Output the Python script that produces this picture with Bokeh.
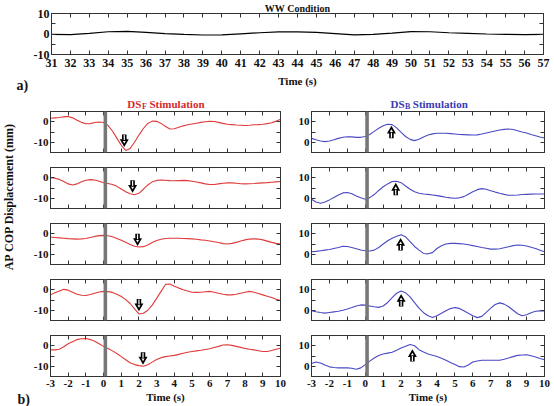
import numpy as np
from bokeh.plotting import figure
from bokeh.layouts import column, row
from bokeh.models import Range1d, FixedTicker, LinearAxis, Label, BoxAnnotation, ColumnDataSource, Title
from bokeh.embed import file_html
from bokeh.resources import INLINE

FONT = "Liberation Serif"
AXC = "#333333"
TXT = "#111111"
RED = "#e03a3a"
BLUE = "#4a4ac4"
RED_T = "#d42a2a"
BLUE_T = "#3b3bb0"

# ---------------- data ----------------
ww_time = list(range(31, 58))
ww_cop = [-0.2, -0.3, 0.3, 1.1, 1.3, 0.8, 0.2, -0.2, -0.5, -0.4, 0.1, 0.6, 1.0, 1.0,
          0.8, 0.2, -0.4, -0.2, 0.4, 1.2, 1.1, 0.6, 0.3, 0.0, -0.15, -0.3, -0.2]

t = np.arange(-3, 10.001, 0.25)

dsf_1 = [1.7, 1.9, 2.1, 2.4, 2.6, 1.9, 0.7, -0.3, -1.0, -0.9, -0.4, -0.1,
         -0.4, -1.8, -4.5, -8.0, -11.5, -14.0, -13.0, -10.0, -6.5, -3.3, -0.8, 0.3,
         0.2, -0.8, -2.3, -3.5, -3.4, -2.7, -2.0, -1.5, -1.1, -0.7, -0.3, 0.0,
         0.2, 0.1, -0.3, -0.8, -1.2, -1.4, -1.6, -1.7, -1.8, -1.7, -1.5, -1.4,
         -1.2, -0.9, -0.5, 0.3, 1.2]
dsf_2 = [0.0, -0.2, -0.8, -1.8, -3.0, -3.5, -3.0, -2.0, -1.2, -0.9, -1.1, -1.7,
         -2.4, -2.8, -3.3, -4.2, -5.5, -6.8, -7.8, -8.3, -7.6, -5.6, -3.5, -2.0,
         -1.3, -1.1, -1.2, -1.4, -1.5, -1.4, -1.3, -1.4, -1.7, -2.1, -2.5, -3.0,
         -3.3, -3.3, -3.0, -2.7, -2.5, -2.5, -2.7, -2.9, -3.0, -2.9, -2.8, -2.6,
         -2.5, -2.4, -2.2, -2.0, -1.8]
dsf_3 = [-1.6, -1.8, -2.0, -2.2, -2.4, -2.5, -2.6, -2.5, -2.3, -1.8, -1.3, -0.9,
         -0.8, -1.0, -1.5, -2.3, -3.2, -4.2, -5.2, -6.1, -6.5, -6.3, -5.5, -4.3,
         -3.3, -2.7, -2.3, -2.2, -2.2, -2.2, -2.3, -2.4, -2.5, -2.7, -3.0, -3.2,
         -3.5, -3.9, -4.3, -4.8, -5.0, -4.7, -4.2, -3.5, -3.0, -2.6, -2.5, -2.6,
         -3.0, -3.6, -4.2, -4.7, -5.0]
dsf_4 = [-2.5, -1.5, -0.6, 0.2, -0.2, -1.2, -2.2, -2.7, -2.8, -2.3, -1.7, -1.1,
         -0.8, -0.9, -1.3, -2.2, -3.3, -4.8, -6.7, -9.3, -11.8, -11.5, -10.0, -7.5,
         -4.2, -0.8, 2.6, 2.8, 1.7, 0.8, 0.0, -0.6, -1.2, -1.3, -1.2, -1.0,
         -0.8, -1.2, -1.7, -2.2, -2.5, -2.5, -2.2, -1.7, -1.2, -0.8, -1.2, -1.8,
         -2.5, -3.2, -3.8, -4.6, -5.3]
dsf_5 = [-2.0, -2.0, -1.7, -0.5, 1.0, 2.0, 3.0, 3.4, 3.5, 3.0, 2.2, 1.0,
         -0.3, -1.3, -2.5, -3.8, -5.3, -6.8, -8.3, -9.2, -9.7, -10.0, -9.3, -8.0,
         -6.7, -5.8, -5.3, -5.0, -4.7, -4.2, -3.7, -3.2, -2.8, -2.5, -2.2, -1.8,
         -1.5, -0.9, -0.3, 0.4, 0.5, 0.2, -0.3, -0.8, -1.3, -1.7, -2.0, -2.4,
         -2.8, -2.8, -2.3, -1.7, -1.2]

dsb_1 = [1.9, 1.2, 0.6, 0.3, 0.6, 1.2, 1.9, 2.4, 2.7, 2.6, 2.4, 2.4,
         2.8, 3.8, 5.3, 6.8, 8.0, 8.8, 8.6, 7.0, 4.8, 2.8, 1.4, 0.8,
         1.5, 2.6, 3.5, 4.1, 4.4, 4.4, 4.4, 4.2, 4.0, 3.8, 3.7, 3.6,
         3.5, 3.6, 4.0, 4.5, 5.0, 5.5, 6.0, 6.3, 6.5, 6.2, 5.6, 5.0,
         4.5, 3.8, 3.2, 2.6, 2.1]
dsb_2 = [-0.5, -1.8, -2.4, -1.8, -0.8, 0.4, 1.6, 2.6, 2.8, 2.2, 1.1, 0.2,
         -0.5, 0.3, 1.8, 3.8, 5.6, 7.0, 8.2, 8.3, 7.6, 6.0, 4.4, 3.2,
         2.4, 2.1, 1.9, 1.6, 1.3, 0.9, 0.5, 0.2, 0.0, 0.2, 0.8, 2.0,
         3.2, 4.2, 4.7, 4.4, 3.7, 3.0, 2.4, 1.9, 1.5, 1.5, 1.6, 1.8,
         1.9, 2.0, 2.1, 2.1, 2.1]
dsb_3 = [1.2, 1.4, 1.7, 2.0, 2.3, 2.8, 3.3, 3.9, 3.8, 3.3, 2.7, 2.1,
         1.7, 1.6, 2.0, 3.3, 5.0, 6.6, 7.8, 8.8, 9.5, 8.5, 6.2, 3.8,
         2.0, 0.4, 0.2, 0.8, 2.8, 4.1, 5.0, 5.3, 5.3, 5.2, 5.0, 4.6,
         4.2, 3.8, 3.3, 2.9, 2.5, 2.5, 2.7, 3.2, 3.7, 4.2, 4.5, 4.4,
         4.0, 3.4, 2.8, 2.0, 1.2]
dsb_4 = [-0.2, -0.7, -1.1, -1.4, -1.1, -0.8, -0.5, 0.0, 0.6, 1.3, 2.1, 2.6,
         2.5, 2.1, 1.7, 1.4, 2.1, 3.8, 6.2, 8.3, 9.4, 8.5, 6.5, 3.7,
         1.0, -1.2, -2.7, -3.5, -2.7, -1.5, -0.2, 0.8, 1.3, 0.9, -0.2, -1.5,
         -2.7, -3.6, -3.0, -1.0, 1.0, 2.8, 3.6, 3.0, 1.7, 0.0, -1.7, -2.7,
         -2.2, -1.2, -0.5, -0.3, -0.3]
dsb_5 = [1.3, 2.1, 1.6, 0.6, -0.3, -0.6, -0.8, -0.8, -0.8, -1.0, -1.5, -0.8,
         0.8, 2.5, 4.0, 5.2, 6.0, 6.4, 6.8, 7.8, 8.9, 9.8, 10.6, 10.0,
         8.1, 7.0, 6.0, 5.4, 4.8, 3.9, 2.9, 1.8, 0.8, -0.2, -0.4, 0.6,
         2.1, 2.6, 2.9, 2.9, 2.9, 2.9, 2.9, 3.4, 4.0, 4.7, 5.3, 5.5,
         5.6, 5.1, 4.5, 3.8, 3.2]

dsf_series = [dsf_1, dsf_2, dsf_3, dsf_4, dsf_5]
dsb_series = [dsb_1, dsb_2, dsb_3, dsb_4, dsb_5]

dsf_arrow_x = [1.17, 1.64, 1.92, 2.0, 2.23]
dsf_arrow_y = [-8.8, -3.8, -2.5, -7.0, -5.7]
dsb_arrow_x = [1.46, 1.7, 1.97, 2.0, 2.63]
dsb_arrow_y = [4.5, 4.0, 4.4, 4.4, 4.8]

stim_start, stim_end = 0.0, 0.2

panel_xticks = list(range(-3, 11))
ww_xticks = list(range(31, 58))

PX_PER_UNIT = 41 / 20.0   # vertical pixels per mm on the small panels


# ---------------- helpers ----------------
def base_fig(w, h, borders, xr, yr, outline=AXC):
    l, r, tp, b = borders
    p = figure(width=w, height=h, x_range=Range1d(*xr), y_range=Range1d(*yr),
               output_backend="svg", toolbar_location=None, title=None,
               min_border_left=l, min_border_right=r, min_border_top=tp, min_border_bottom=b,
               background_fill_color="white", border_fill_color="white",
               outline_line_color=outline, outline_line_width=1)
    p.grid.visible = False
    return p


def text_fig(w, h, borders, xr, yr):
    l, r, tp, b = borders
    p = figure(width=w, height=h, x_range=Range1d(*xr), y_range=Range1d(*yr),
               output_backend="svg", toolbar_location=None, x_axis_location=None,
               y_axis_location=None, title=None,
               min_border_left=l, min_border_right=r, min_border_top=tp, min_border_bottom=b,
               outline_line_color=None,
               background_fill_color="white", border_fill_color="white")
    p.grid.visible = False
    return p


def style_axis(ax, ticks, minor, show, size="11px", standoff=2):
    ax.ticker = FixedTicker(ticks=ticks, minor_ticks=minor)
    ax.major_label_overrides = {v: str(v) for v in ticks}   # plain ASCII hyphen
    ax.axis_line_color = AXC
    ax.major_tick_line_color = AXC
    ax.minor_tick_line_color = AXC
    ax.major_tick_in = 4
    ax.major_tick_out = 0
    ax.minor_tick_in = 4
    ax.minor_tick_out = 0
    ax.major_label_text_font = FONT
    ax.major_label_text_font_style = "bold"
    if show:
        ax.major_label_text_color = TXT
        ax.major_label_text_font_size = size
        ax.major_label_standoff = standoff
    else:
        ax.major_label_text_color = None
        ax.major_label_text_font_size = "1px"
        ax.major_label_standoff = 0


def add_boxes(p, xticks, yticks, yminor, show_x, show_y, xsize="11px", ysize="11px", xlabel=None):
    style_axis(p.below[0], xticks, [], show_x, xsize, 3)
    style_axis(p.left[0], yticks, yminor, show_y, ysize, 2)
    top = LinearAxis()
    style_axis(top, xticks, [], False)
    right = LinearAxis()
    style_axis(right, yticks, yminor, False)
    p.add_layout(top, "above")
    p.add_layout(right, "right")
    if xlabel:
        ax = p.below[0]
        ax.axis_label = xlabel
        ax.axis_label_text_font = FONT
        ax.axis_label_text_font_style = "bold"
        ax.axis_label_text_font_size = "11px"
        ax.axis_label_text_color = TXT
        ax.axis_label_standoff = 1


def lab(p, x, y, text, size, color=TXT, align="left", baseline="alphabetic", angle=0.0):
    p.add_layout(Label(x=x, y=y, text=text, text_font=FONT, text_font_style="bold",
                       text_font_size=size, text_color=color, text_align=align,
                       text_baseline=baseline, angle=angle))


def add_arrow(p, ax, ay, down):
    d = 1 if down else -1
    src = ColumnDataSource(dict(x=[ax], head=[ay - d * 2.0 / PX_PER_UNIT],
                                stem=[ay + d * 2.2 / PX_PER_UNIT]))
    p.rect(x="x", y="stem", width=4.5, height=6, width_units="screen", height_units="screen",
           source=src, fill_color="black", line_color=None)
    p.scatter(x="x", y="head", source=src, marker="inverted_triangle" if down else "triangle",
              size=9, fill_color="black", line_color=None)
    p.rect(x="x", y="stem", width=1.2, height=5, width_units="screen", height_units="screen",
           source=src, fill_color="white", line_color=None)
    p.scatter(x="x", y="head", source=src, marker="inverted_triangle" if down else "triangle",
              size=3, fill_color="white", line_color=None)


# ---------------- full-height left strip: a), y label, b) ----------------
strip = text_fig(30, 406, (0, 0, 0, 0), (0, 30), (0, 406))
lab(strip, 16, 321, "a)", "14px", baseline="middle")
lab(strip, 8, 210, "AP COP Displacement (mm)", "12px", align="center", baseline="middle",
    angle=np.pi / 2)
lab(strip, 17, 7, "b)", "14px", baseline="middle")

# ---------------- top panel (a) ----------------
top = base_fig(524, 92, (18, 11, 0, 38), (31, 57), (-10, 10))
add_boxes(top, ww_xticks, [-10, 0, 10], [-5, 5], True, True, "12px", "12px", xlabel="Time (s)")
top.add_layout(Title(text="WW Condition", align="center", text_font=FONT,
                     text_font_style="bold", text_font_size="10px", text_color=TXT,
                     standoff=0), "above")
top.below[0].major_label_standoff = 4
top.below[0].axis_label_standoff = 5
top.left[0].major_label_standoff = 2
top.line(ww_time, ww_cop, color="black", line_width=1.2)

# ---------------- bottom panels (b) ----------------
heights = [46, 56, 56, 56, 82]
tops = [1, 11, 11, 11, 11]
bottoms = [4, 4, 4, 4, 30]

left_figs, right_figs = [], []
for i in range(5):
    last = (i == 4)
    pf = base_fig(265, heights[i], (17, 15, tops[i], bottoms[i]), (-3, 10), (-15, 5))
    add_boxes(pf, panel_xticks, [-10, 0], [-5], last, True,
              xlabel="Time (s)" if last else None)
    pf.line(t, dsf_series[i], color=RED, line_width=1.1)
    pf.add_layout(BoxAnnotation(left=stim_start, right=stim_end, fill_color="#777777",
                                fill_alpha=1.0, line_color=None))
    add_arrow(pf, dsf_arrow_x[i], dsf_arrow_y[i], True)
    left_figs.append(pf)

    pb = base_fig(259, heights[i], (16, 10, tops[i], bottoms[i]), (-3, 10), (-5, 15))
    add_boxes(pb, panel_xticks, [0, 10], [5], last, True,
              xlabel="Time (s)" if last else None)
    pb.line(t, dsb_series[i], color=BLUE, line_width=1.1)
    pb.add_layout(BoxAnnotation(left=stim_start, right=stim_end, fill_color="#777777",
                                fill_alpha=1.0, line_color=None))
    add_arrow(pb, dsb_arrow_x[i], dsb_arrow_y[i], False)
    right_figs.append(pb)

# column titles (bands above the first row), x in the panels' time units
title_l = text_fig(265, 18, (17, 15, 0, 0), (-3, 10), (0, 18))
lab(title_l, 2.139, 6.5, "DS", "11px", RED_T, align="right")
lab(title_l, 2.167, 4.0, "F", "8px", RED_T)
lab(title_l, 2.596, 6.5, "Stimulation", "11px", RED_T)
title_r = text_fig(259, 18, (16, 10, 0, 0), (-3, 10), (0, 18))
lab(title_r, 2.195, 6.5, "DS", "11px", BLUE_T, align="right")
lab(title_r, 2.223, 4.0, "B", "8px", BLUE_T)
lab(title_r, 2.65, 6.5, "Stimulation", "11px", BLUE_T)

layout = row(
    strip,
    column(top, row(column(title_l, *left_figs), column(title_r, *right_figs))),
)

open("out.html", "w").write(file_html(layout, INLINE))
